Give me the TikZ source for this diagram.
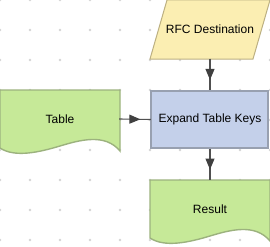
\documentclass[tikz,border=0pt]{standalone}
\usepackage{fontspec}
\setmainfont{Liberation Sans}
\usetikzlibrary{arrows.meta,decorations.markings}
\definecolor{rfcfill}{RGB}{251,238,178}
\definecolor{rfcline}{RGB}{188,176,130}
\definecolor{keyfill}{RGB}{196,208,234}
\definecolor{keyline}{RGB}{152,160,176}
\definecolor{docfill}{RGB}{198,233,152}
\definecolor{docline}{RGB}{156,178,126}
\definecolor{conline}{RGB}{80,80,80}
\definecolor{dotgray}{RGB}{212,212,212}
\tikzset{
  lbl/.style={minimum width=118, minimum height=58, inner sep=0pt, font=\fontsize{12}{14}\selectfont},
  docshape/.style={fill=docfill, draw=docline, line width=1.4pt},
  conn/.style={draw=conline, line width=1.1pt, postaction={decorate},
    decoration={markings, mark=at position 0.67 with {\arrow[conline!80!black]{Triangle[length=11pt,width=9pt]}}}}
}
\newcommand{\docpath}[2]{\draw[docshape, shift={(#1,#2)}] (0,0) -- (120,0) -- (120,61)
  .. controls (105,43) and (80,50) .. (60,56) .. controls (40,62) and (15,68) .. (0,58) -- cycle;}
\begin{document}
\begin{tikzpicture}[x=1pt,y=-1pt]
\useasboundingbox (0,0) rectangle (270,246);
\clip (0,0) rectangle (270,246);
\foreach \x in {0,30,...,270}
  \foreach \y in {0,30,...,240}
    \fill[dotgray] (\x,\y) circle (1.3);
\draw[fill=rfcfill, draw=rfcline, line width=1pt] (150,59) -- (167,0) -- (270,0) -- (253,59) -- cycle;
\draw[fill=keyfill, draw=keyline, line width=2pt] (151,91) rectangle (268,148);
\docpath{0}{90}
\docpath{150}{180}
\node[lbl] (rfc) at (210,29.5) {RFC Destination};
\node[lbl] (expand) at (210,119.5) {Expand Table Keys};
\node[lbl] (table) at (60,119) {Table};
\node[lbl] (result) at (210,209) {Result};
\draw[conn] (rfc.south) -- (expand.north);
\draw[conn] (table.east) -- (expand.west);
\draw[conn] (expand.south) -- (result.north);
\end{tikzpicture}
\end{document}
